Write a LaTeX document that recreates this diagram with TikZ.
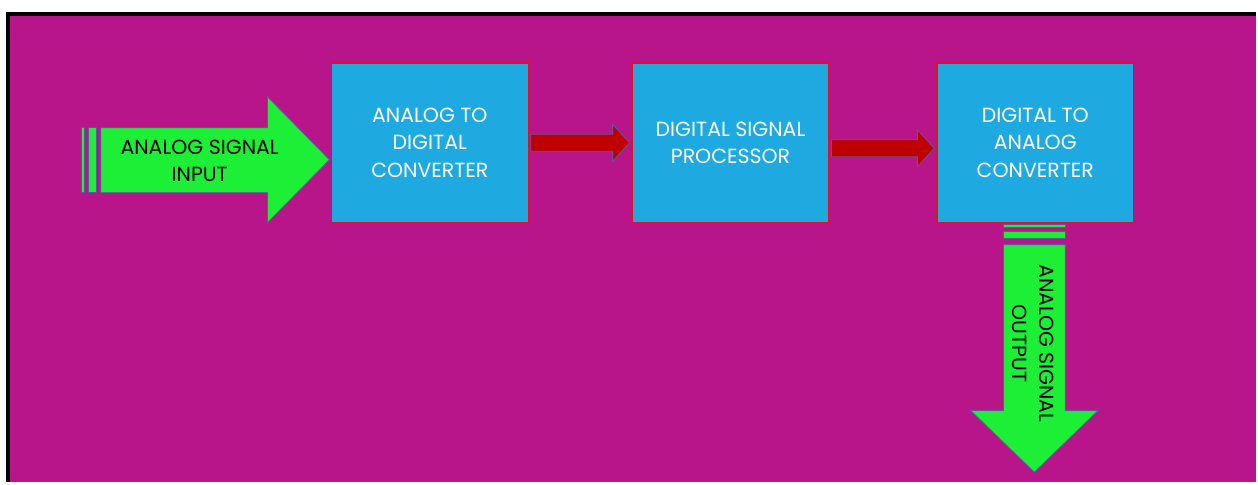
\documentclass[tikz,border=0pt]{standalone}
\usepackage{fontspec}
\setmainfont{Poppins}
\usetikzlibrary{positioning,calc}
\definecolor{panelbg}{HTML}{B9158B}
\definecolor{blockfill}{HTML}{1FA9E1}
\definecolor{blockedge}{HTML}{E0102A}
\definecolor{signalgreen}{HTML}{1CEF35}
\definecolor{linkred}{HTML}{C00000}
\definecolor{arrowedge}{HTML}{5A5A9A}

\begin{document}
\begin{tikzpicture}[x=1pt, y=-1pt,
  block/.style={draw=blockedge, line width=1.2pt, fill=blockfill, minimum width=197pt,
                minimum height=160pt, inner sep=0pt, align=center, text=white,
                font=\fontsize{20.5}{27.5}\selectfont},
  signal/.style={fill=signalgreen, draw=arrowedge, line width=0.8pt},
  link/.style={fill=linkred, draw=arrowedge, line width=0.8pt},
  sigtext/.style={align=center, text=black, inner sep=0pt, font=\fontsize{20.5}{27.5}\selectfont},
]
  % frame
  \fill[white] (0,0) rectangle (1258,483);
  \fill[panelbg] (8,14) rectangle (1258,483);
  \draw[line width=4pt] (8,483) |- (1258,14);

  % processing blocks
  \node[block] (adc) at (430.5,143) {ANALOG TO\\DIGITAL\\CONVERTER};
  \node[block, right=103pt of adc] (dsp) {DIGITAL SIGNAL\\PROCESSOR};
  \node[block, right=107pt of dsp] (dac) {DIGITAL TO\\ANALOG\\CONVERTER};

  % links between blocks
  \foreach \src/\dst/\dy in {adc/dsp/0, dsp/dac/5.5}
    \draw[link] ($(\src.east)+(2,\dy-8.5)$) -- ($(\dst.west)+(-19,\dy-8.5)$)
      -- ($(\dst.west)+(-19,\dy-18.5)$) -- ($(\dst.west)+(-2,\dy)$)
      -- ($(\dst.west)+(-19,\dy+18.5)$) -- ($(\dst.west)+(-19,\dy+8.5)$)
      -- ($(\src.east)+(2,\dy+8.5)$) -- cycle;

  % input arrow
  \draw[signal] (82,128) rectangle (85,193);
  \draw[signal] (89,128) rectangle (97,193);
  \draw[signal] (101,128) -- (268,128) -- (268,97) -- (330,160) -- (268,223)
    -- (268,193) -- (101,193) -- cycle;
  \node[sigtext] (inlabel) at (200,161) {ANALOG SIGNAL\\INPUT};

  % output arrow
  \draw[signal] (1005,225) rectangle (1067,227.5);
  \draw[signal] (1005,232) rectangle (1067,239);
  \draw[signal] (1005,245) -- (1005,411) -- (972,411) -- (1036,473) -- (1100,411)
    -- (1067,411) -- (1067,245) -- cycle;
  \node[sigtext, rotate=-90] (outlabel) at (1035,344) {ANALOG SIGNAL\\OUTPUT};
\end{tikzpicture}
\end{document}
